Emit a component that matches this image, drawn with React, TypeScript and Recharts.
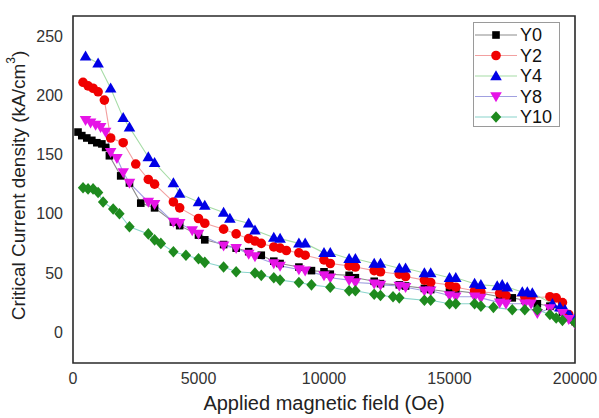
import React from 'react';
import { LineChart, Line, XAxis, YAxis, ReferenceArea, Legend } from 'recharts';

// ---- data ----
const y0Field = [200, 350, 550, 750, 950, 1150, 1300, 1450, 1900, 2250, 2700, 3250, 4000, 4250, 5000, 5250, 6000, 6500, 7000, 7500, 8000, 8250, 9000, 9500, 10000, 10250, 11000, 11250, 12000, 12250, 13000, 13250, 14000, 14250, 15000, 15250, 16000, 16250, 17000, 17500, 18000, 18500, 19000, 19500, 20000];
const y0Jc = [169, 166, 164, 162, 160, 159, 156, 149, 132, 126, 109, 105, 93, 90, 82, 78, 74, 71, 68, 65, 60, 58, 55, 52, 51, 49, 48, 46, 43, 41, 40, 39, 37, 36, 34, 35, 33, 33, 30, 29, 27, 24, 22, 17, 9];

const y2Field = [400, 600, 800, 1000, 1250, 1500, 2000, 2500, 3000, 3250, 4000, 4250, 5000, 5250, 6000, 6500, 7000, 7250, 7500, 8000, 8250, 8500, 9000, 9250, 10000, 10250, 11000, 11250, 12000, 12250, 13000, 13250, 14000, 14250, 15000, 15250, 16000, 16250, 17000, 17250, 18000, 18250, 19000, 19250, 19500, 19750, 20000];
const y2Jc = [211, 208, 206, 203, 196, 164, 160, 142, 129, 125, 110, 105, 96, 92, 87, 83, 79, 77, 75, 72, 71, 69, 67, 65, 61, 58, 56, 55, 52, 51, 49, 47, 44, 42, 40, 38, 35, 34, 33, 31, 30, 29, 30, 29, 25, 15, 9];

const y4Field = [500, 1000, 1500, 2000, 2250, 3000, 3250, 4000, 4250, 5000, 5250, 6000, 6250, 7000, 7250, 8000, 8250, 9000, 9250, 10000, 10250, 11000, 11250, 12000, 12250, 13000, 13250, 14000, 14250, 15000, 15250, 16000, 16250, 16900, 17100, 17300, 17900, 18100, 18300, 19100, 19400, 19600, 19800, 20000];
const y4Jc = [233, 227, 206, 181, 173, 148, 143, 126, 117, 110, 107, 101, 96, 92, 86, 80, 79, 75, 75, 67, 67, 62, 62, 58, 58, 54, 54, 50, 50, 46, 46, 41, 40, 39, 40, 38, 34, 34, 33, 24, 21, 19, 14, 11];

const y8Field = [500, 700, 900, 1100, 1300, 1500, 1750, 2000, 2250, 3000, 3250, 4000, 4250, 4750, 5000, 6000, 6500, 7000, 7250, 8000, 8250, 9000, 9250, 10000, 10250, 11000, 11250, 12000, 12250, 13000, 13250, 14000, 14250, 15000, 15250, 16000, 16250, 17000, 17250, 18000, 18250, 18500, 19000, 19500, 19750, 20000];
const y8Jc = [179, 177, 175, 173, 169, 152, 147, 135, 126, 110, 108, 93, 92, 86, 83, 73, 71, 66, 64, 58, 56, 53, 52, 48, 46, 44, 42, 41, 40, 39, 38, 35, 35, 31, 30, 30, 29, 25, 24, 24, 24, 16, 20, 16, 11, 7];

const y10Field = [400, 600, 800, 1000, 1200, 1600, 1850, 2250, 3000, 3250, 3500, 4000, 4500, 5000, 5250, 6000, 6500, 7250, 7500, 8000, 8250, 9000, 9500, 10250, 11000, 11250, 12000, 12250, 12750, 13000, 14000, 14250, 15000, 15250, 16000, 16250, 16750, 17500, 18000, 18500, 19000, 19250, 19500, 20000];
const y10Jc = [122, 121, 121, 118, 110, 104, 100, 89, 83, 78, 75, 68, 65, 62, 59, 55, 51, 50, 48, 46, 44, 42, 40, 38, 35, 35, 32, 31, 30, 29, 27, 27, 24, 24, 24, 22, 21, 19, 19, 19, 15, 12, 10, 8];

const seriesNames = ['Y0', 'Y2', 'Y4', 'Y8', 'Y10'];
const xTicks = [0, 5000, 10000, 15000, 20000];
const yTicks = [0, 50, 100, 150, 200, 250];

const FONT = '"Liberation Sans", Arial, Helvetica, sans-serif';

type Shape = 'square' | 'circle' | 'triangle' | 'triangleDown' | 'diamond';

const zip = (f: number[], j: number[]) => f.map((x, i) => ({ x, y: j[i] }));

const series: { name: string; data: { x: number; y: number }[]; color: string; line: string; shape: Shape }[] = [
  { name: seriesNames[0], data: zip(y0Field, y0Jc), color: '#000000', line: '#8c8c8c', shape: 'square' },
  { name: seriesNames[1], data: zip(y2Field, y2Jc), color: '#f00000', line: '#f2a0a0', shape: 'circle' },
  { name: seriesNames[2], data: zip(y4Field, y4Jc), color: '#0000e6', line: '#a6dca6', shape: 'triangle' },
  { name: seriesNames[3], data: zip(y8Field, y8Jc), color: '#e614e6', line: '#a0a0e0', shape: 'triangleDown' },
  { name: seriesNames[4], data: zip(y10Field, y10Jc), color: '#1e8a1e', line: '#8ad4cc', shape: 'diamond' },
];

function markerEl(shape: Shape, cx: number, cy: number, color: string, key?: any) {
  switch (shape) {
    case 'square':
      return <rect key={key} x={cx - 3.8} y={cy - 3.8} width={7.6} height={7.6} fill={color} />;
    case 'circle':
      return <circle key={key} cx={cx} cy={cy} r={4.8} fill={color} />;
    case 'triangle':
      return <path key={key} d={`M${cx},${cy - 5.8}L${cx + 5.8},${cy + 4.2}L${cx - 5.8},${cy + 4.2}Z`} fill={color} />;
    case 'triangleDown':
      return <path key={key} d={`M${cx},${cy + 5.8}L${cx + 5.8},${cy - 4.2}L${cx - 5.8},${cy - 4.2}Z`} fill={color} />;
    case 'diamond':
    default:
      return <path key={key} d={`M${cx},${cy - 5.8}L${cx + 5.2},${cy}L${cx},${cy + 5.8}L${cx - 5.2},${cy}Z`} fill={color} />;
  }
}

const makeDot = (shape: Shape, color: string) => (p: any) => {
  if (p.cx == null || p.cy == null) return <g key={p.index} />;
  return markerEl(shape, p.cx, p.cy, color, p.index);
};

const YTitle = (props: any) => {
  const vb = props.viewBox || { x: 0, y: 0, width: 0, height: 0 };
  const x = vb.x + 18;
  const y = vb.y + vb.height / 2 - 4;
  return (
    <text
      x={x}
      y={y}
      transform={`rotate(-90 ${x} ${y})`}
      textAnchor="middle"
      dominantBaseline="central"
      fontSize={19}
      fill="#222"
      fontFamily={FONT}
    >
      Critical Current density (kA/cm<tspan dy={-7} fontSize={12}>3</tspan>
      <tspan dy={7}>)</tspan>
    </text>
  );
};

const XTitle = (props: any) => {
  const vb = props.viewBox || { x: 0, y: 0, width: 0, height: 0 };
  return (
    <text x={vb.x + vb.width / 2} y={vb.y + 47} textAnchor="middle" fontSize={20} fill="#222" fontFamily={FONT}>
      Applied magnetic field (Oe)
    </text>
  );
};

const LegendBox = () => {
  const w = 87;
  const h = 105;
  return (
    <div style={{ width: w, height: h, border: '1px solid #9a9a9a', background: '#fff', boxSizing: 'border-box' }}>
      <svg width={w - 2} height={h - 2} style={{ display: 'block' }}>
        {series.map((s, i) => {
          const cy = 12 + i * 20.5;
          return (
            <g key={s.name}>
              <line x1={1} x2={43} y1={cy} y2={cy} stroke={s.line} strokeWidth={1.2} />
              {markerEl(s.shape, 22, cy, s.color)}
              <text x={46} y={cy} dominantBaseline="central" fontSize={18} fill="#111" fontFamily={FONT}>
                {s.name}
              </text>
            </g>
          );
        })}
      </svg>
    </div>
  );
};

export default function App() {
  return (
    <div style={{ position: 'absolute', left: 0, top: 0, width: 599, height: 418, background: '#fff' }}>
      <LineChart width={599} height={418} margin={{ top: 16, right: 24, bottom: 0, left: 0 }}>
        <XAxis
          dataKey="x"
          type="number"
          domain={[0, 20000]}
          ticks={xTicks}
          allowDataOverflow
          axisLine={false}
          tickLine={false}
          tickSize={6}
          tickMargin={4}
          height={55}
          interval={0}
          tick={{ fontSize: 16, fill: '#333', fontFamily: FONT }}
          label={<XTitle />}
        />
        <YAxis
          dataKey="y"
          type="number"
          domain={[-26, 267]}
          ticks={yTicks}
          allowDataOverflow
          axisLine={false}
          tickLine={false}
          tickSize={6}
          tickMargin={4}
          width={73}
          interval={0}
          tick={{ fontSize: 16, fill: '#333', fontFamily: FONT }}
          label={<YTitle />}
        />
        <ReferenceArea x1={0} x2={20000} y1={-26} y2={267} fill="none" stroke="#2a2a2a" strokeWidth={1.6} ifOverflow="visible" />
        {series.map((s) => (
          <Line
            key={s.name}
            data={s.data}
            dataKey="y"
            name={s.name}
            type="linear"
            stroke={s.line}
            strokeWidth={1.1}
            dot={makeDot(s.shape, s.color)}
            activeDot={false}
            isAnimationActive={false}
          />
        ))}
        <Legend
          layout="horizontal"
          verticalAlign="middle"
          align="center"
          content={() => <LegendBox />}
          wrapperStyle={{ left: 473, top: 22, width: 87, height: 105, right: 'auto', bottom: 'auto' }}
        />
      </LineChart>
    </div>
  );
}
